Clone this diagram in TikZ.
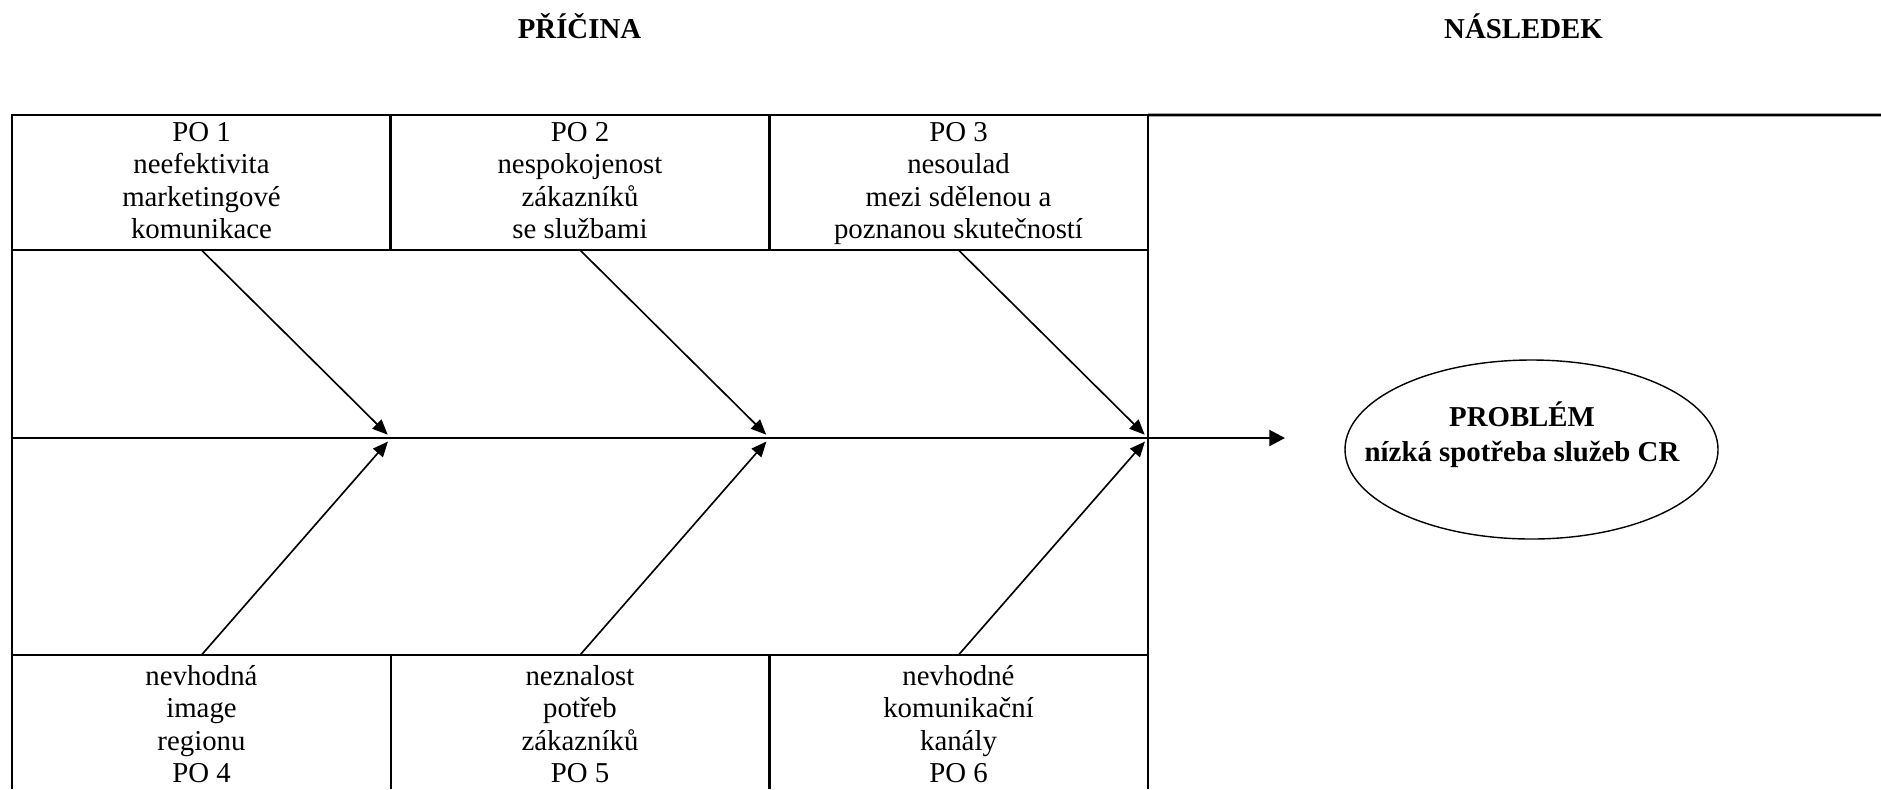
\documentclass[tikz,border=0pt]{standalone}
\usepackage{fontspec}
\setmainfont{Liberation Serif}
\usetikzlibrary{arrows.meta,shapes.geometric}

\begin{document}
\begin{tikzpicture}[
    x=0.015cm, y=-0.015cm,
    font=\fontsize{12.3}{13.9}\selectfont,
    frame/.style={line width=1.1pt},
    cell/.style={draw, frame, minimum width=5.685cm, minimum height=2.025cm, inner sep=0pt, outer sep=0pt},
    celltext/.style={anchor=north, align=center, inner sep=0pt, yshift=-0.1cm},
    lowcell/.style={anchor=north, minimum width=5.685cm, inner xsep=0pt, inner ysep=0.15cm, outer sep=0pt, align=center},
    bone/.style={line width=0.7pt, shorten >=2pt, -{Triangle[length=6.5pt,width=5.5pt]}},
    spine/.style={line width=1pt, -{Triangle[length=6.7pt,width=6.8pt]}},
    head/.style={draw, ellipse, line width=0.6pt, minimum width=5.595cm, minimum height=2.685cm, inner sep=0pt},
    headtext/.style={font=\fontsize{12.3}{15.2}\selectfont\bfseries, align=center, inner sep=0pt},
    title/.style={font=\fontsize{12.3}{13.9}\selectfont\bfseries, anchor=base}
]
  \useasboundingbox (0,0) rectangle (1881,789);

  % ===== nadpisy =====
  \node[title] (pricina) at (579.5,38) {PŘÍČINA};
  \node[title] (nasledek) at (1523.5,38) {NÁSLEDEK};

  % ===== horní řada příčin =====
  \node[cell, label={[celltext]north:{PO 1\\neefektivita\\marketingové\\komunikace}}] (po1) at (201.5,182.5) {};
  \node[cell, label={[celltext]north:{PO 2\\nespokojenost\\zákazníků\\se službami}}] (po2) at (580,182.5) {};
  \node[cell, label={[celltext]north:{PO 3\\nesoulad\\mezi sdělenou a\\poznanou skutečností}}] (po3) at (958.5,182.5) {};

  % ===== dolní řada příčin =====
  \node[lowcell] (po4) at (201.5,655) {nevhodná\\image\\regionu\\PO 4};
  \node[lowcell] (po5) at (580,655) {neznalost\\potřeb\\zákazníků\\PO 5};
  \node[lowcell] (po6) at (958.5,655) {nevhodné\\komunikační\\kanály\\PO 6};

  % ===== rám =====
  \coordinate (corner) at (1881,115);
  \draw[frame] (po3.north east) -- (corner);
  \draw[frame] (po1.south west) -- (po4.north west) -- (po4.north west |- 0,789);
  \draw[frame] (po3.south east) -- (po6.north east) -- (po6.north east |- 0,789);
  \draw[frame] (po4.north west) -- (po6.north east);
  \foreach \n in {4,5}
    \draw[frame] (po\n.north east) -- (po\n.north east |- 0,789);

  % ===== páteř a kosti =====
  \coordinate (tail) at (po1.south west |- 0,438);
  \coordinate (tip) at (1285,438);
  \draw[spine] (tail) -- (tip);
  \foreach \n/\m in {1/4,2/5,3/6} {
    \coordinate (j\n) at (po\n.south east |- tail);
    \draw[bone] (po\n.south) -- (j\n);
    \draw[bone] (po\m.north) -- (j\n);
  }

  % ===== problém =====
  \node[head] (problem) at (1531.5,449.5) {};
  \node[headtext] (problemtext) at (1522,434.7) {PROBLÉM\\nízká spotřeba služeb CR};
\end{tikzpicture}
\end{document}
